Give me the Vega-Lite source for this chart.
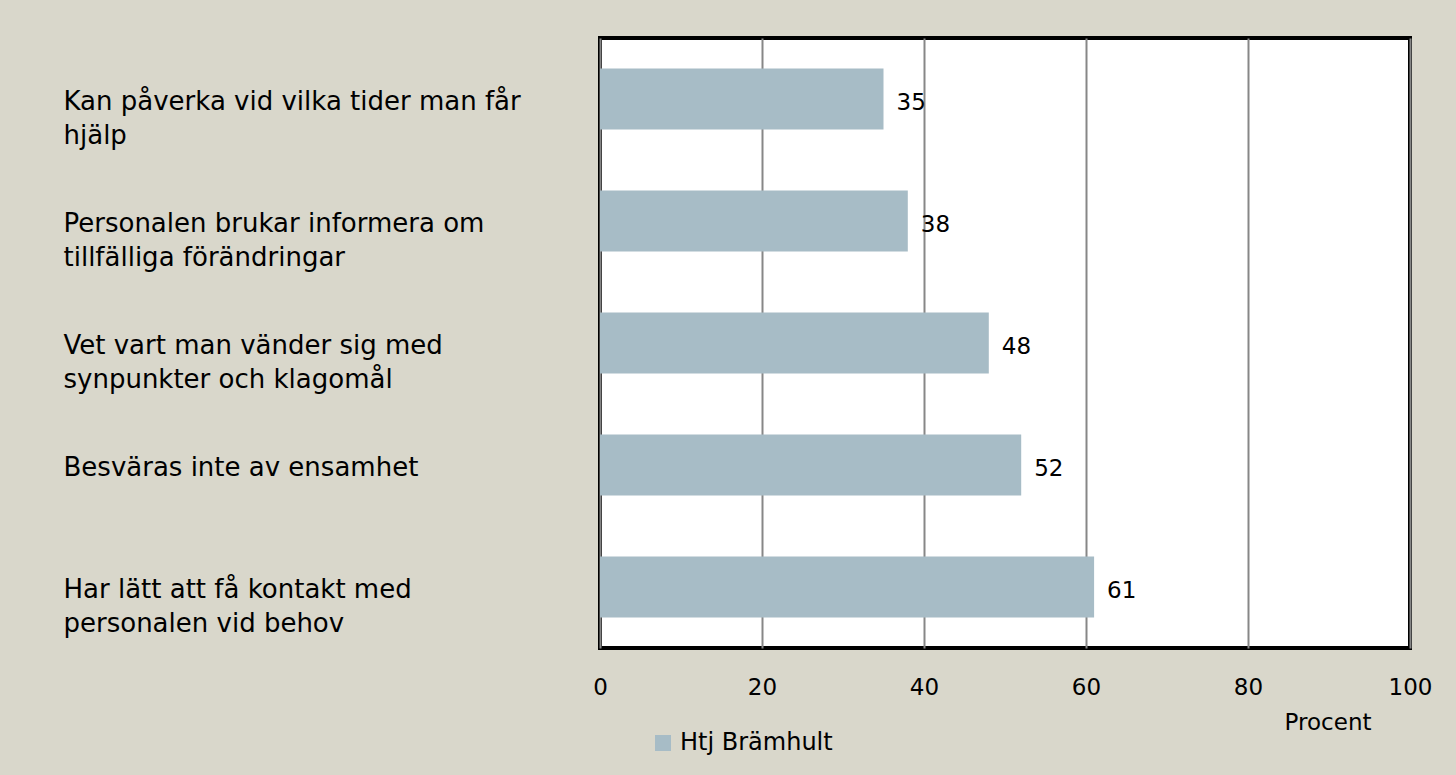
{
  "$schema": "https://vega.github.io/schema/vega-lite/v6.json",
  "autosize": {"type": "none"},
  "width": 810,
  "height": 610,
  "padding": {"left": 600, "top": 38, "right": 46, "bottom": 127},
  "background": "#d9d7cb",
  "config": {
    "view": {"stroke": "#000000", "strokeWidth": 4, "fill": "#ffffff"},
    "font": "DejaVu Sans"
  },
  "data": {
    "values": [
      {"fraga": "Kan påverka vid vilka tider man får\nhjälp", "procent": 35, "serie": "Htj Brämhult"},
      {"fraga": "Personalen brukar informera om\ntillfälliga förändringar", "procent": 38, "serie": "Htj Brämhult"},
      {"fraga": "Vet vart man vänder sig med\nsynpunkter och klagomål", "procent": 48, "serie": "Htj Brämhult"},
      {"fraga": "Besväras inte av ensamhet", "procent": 52, "serie": "Htj Brämhult"},
      {"fraga": "Har lätt att få kontakt med\npersonalen vid behov", "procent": 61, "serie": "Htj Brämhult"}
    ]
  },
  "encoding": {
    "y": {
      "field": "fraga",
      "type": "nominal",
      "sort": null,
      "scale": {"paddingInner": 0.5, "paddingOuter": 0.25},
      "axis": {
        "title": null,
        "domain": false,
        "ticks": false,
        "tickSize": 0,
        "labelAlign": "left",
        "labelBaseline": "top",
        "labelOffset": -10,
        "labelPadding": 537,
        "labelLimit": 0,
        "labelFontSize": 26,
        "labelColor": "#000000",
        "labelLineHeight": 34,
        "labelExpr": "split(datum.label, '\\n')"
      }
    },
    "x": {
      "field": "procent",
      "type": "quantitative",
      "scale": {"domain": [0, 100], "nice": false},
      "axis": {
        "values": [0, 20, 40, 60, 80, 100],
        "grid": true,
        "gridColor": "#878787",
        "gridWidth": 2,
        "domain": false,
        "ticks": false,
        "tickSize": 0,
        "labelFlush": false,
        "labelPadding": 28,
        "labelFontSize": 23,
        "labelColor": "#000000",
        "title": "Procent",
        "titleFontSize": 23,
        "titleFontWeight": "normal",
        "titleColor": "#000000",
        "titleX": 771,
        "titleY": 74,
        "titleAlign": "right",
        "titleBaseline": "middle"
      }
    }
  },
  "layer": [
    {
      "mark": {"type": "bar"},
      "encoding": {
        "color": {
          "field": "serie",
          "type": "nominal",
          "scale": {"range": ["#a7bcc6"]},
          "legend": {
            "title": null,
            "orient": "none",
            "legendX": 51,
            "legendY": 693,
            "symbolType": "square",
            "symbolSize": 256,
            "symbolStrokeWidth": 0,
            "labelFontSize": 24,
            "labelColor": "#000000",
            "padding": 0,
            "labelOffset": 5
          }
        }
      }
    },
    {
      "mark": {"type": "text", "align": "left", "baseline": "middle", "dx": 13, "dy": 4, "fontSize": 23, "color": "#000000"},
      "encoding": {
        "text": {"field": "procent", "type": "quantitative"}
      }
    }
  ]
}
